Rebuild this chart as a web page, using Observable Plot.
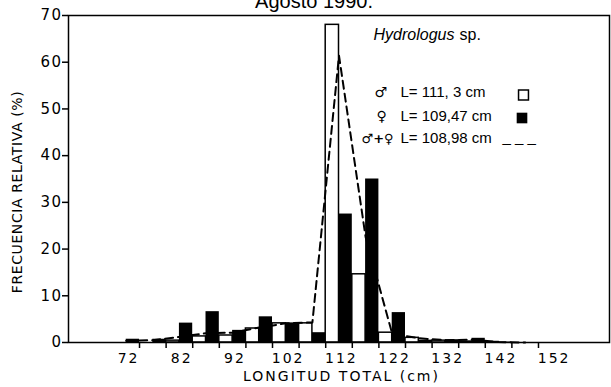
<!DOCTYPE html>
<html><head><meta charset="utf-8">
<script src="https://cdn.jsdelivr.net/npm/d3@7"></script>
<script src="https://cdn.jsdelivr.net/npm/@observablehq/plot@0.6"></script>
<style>
body{margin:0;background:#fff;}
g[aria-label="y-axis tick label"] text{letter-spacing:1.5px}
</style></head><body><div id="chart"></div>
<script>
// 5-cm length classes; male bar in first half, female bar in second half
const binStarts = [70,75,80,85,90,95,100,105,110,115,120,125,130,135,140,145];
const binWidth = 5;
const maleValues   = [0,0,0.4,1.3,1.5,3.0,4.1,4.1,68.0,14.6,2.1,1.0,0.4,0.2,0.1,0];
const femaleValues = [0.7,0.7,4.15,6.6,2.6,5.5,4.2,2.1,27.5,35.0,6.4,0.5,0.6,0.9,0.1,0];
const combinedValues = [0.4,0.5,1.2,2.0,2.1,3.2,4.1,4.3,61.4,22.6,1.9,0.9,0.5,0.6,0.1,0];
const yTicks = [0,10,20,30,40,50,60,70];
const xTicks = [75,80,85,90,95,100,105,110,115,120,125,130,135,140,145,150];
const xTickLabels = [72,82,92,102,112,122,132,142,152];
const titleText = "Agosto 1990.";
const xTitle = "LONGITUD TOTAL (cm)";
const yTitle = "FRECUENCIA RELATIVA (%)";
const speciesName = "Hydrologus";
const speciesSuffix = "sp.";
const legendSymbols = ["\u2642", "\u2640", "\u2642+\u2640"];
const legendLabels = ["L= 111, 3 cm", "L= 109,47 cm", "L= 108,98 cm"];

const maleRows = binStarts.map((s,i)=>({x1:s, x2:s+binWidth/2, y:maleValues[i]}));
const femaleRows = binStarts.map((s,i)=>({x1:s+binWidth/2, x2:s+binWidth, y:femaleValues[i]}));
const combRows = binStarts.map((s,i)=>({x:s+binWidth/2, y:combinedValues[i]}));

const F = "Liberation Sans, Arial, sans-serif";
const D = "DejaVu Sans, sans-serif";
const one = a => [a];

const chart = Plot.plot({
  width: 611, height: 387,
  marginLeft: 68, marginRight: 2, marginTop: 15, marginBottom: 45,
  x: {domain: [61.65, 163.35], axis: null},
  y: {domain: [0, 70], axis: null},
  style: {background: "white", color: "black", overflow: "visible"},
  marks: [
    Plot.rectY(maleRows, {x1:"x1", x2:"x2", y:"y", fill:"white", stroke:"black", strokeWidth:1.5}),
    Plot.rectY(femaleRows, {x1:"x1", x2:"x2", y:"y", fill:"black"}),
    Plot.line(combRows, {x:"x", y:"y", stroke:"black", strokeWidth:2, strokeDasharray:"8,5"}),
    Plot.frame({stroke:"black", strokeWidth:1.5}),
    Plot.axisY({ticks: yTicks, tickSize: 6, tickPadding: 0, strokeWidth: 1.5, fontSize: 15, fontFamily: D, label: null, tickFormat: d => String(d)}),
    Plot.axisX({ticks: xTicks, tickSize: 6, strokeWidth: 1.5, tickFormat: () => "", label: null}),
    Plot.text(xTickLabels, {x: d => d, text: d => String(d), frameAnchor: "bottom", textAnchor: "middle", lineAnchor: "top", dy: 11, dx: 5, fontSize: 14, fontFamily: D}),
    Plot.text(one(xTitle), {frameAnchor: "bottom", textAnchor: "middle", lineAnchor: "bottom", dy: 38, dx: 2.5, fontSize: 14, fontFamily: D}),
    Plot.text(one(yTitle), {frameAnchor: "left", textAnchor: "middle", lineAnchor: "middle", rotate: -90, dx: -51, dy: 13, fontSize: 14, fontFamily: D}),
    Plot.text(one(titleText), {frameAnchor: "top", textAnchor: "middle", lineAnchor: "bottom", dx: -25, dy: -8, fontSize: 20, fontFamily: F}),
    // legend
    Plot.text(one(speciesName), {frameAnchor: "top-left", textAnchor: "start", lineAnchor: "bottom", dx: 305, dy: 24, fontSize: 16, fontStyle: "italic", fontFamily: F}),
    Plot.text(one(speciesSuffix), {frameAnchor: "top-left", textAnchor: "start", lineAnchor: "bottom", dx: 391, dy: 24, fontSize: 16, fontFamily: F}),
    Plot.text(one(legendSymbols[0]), {frameAnchor: "top-left", textAnchor: "start", lineAnchor: "bottom", dx: 306, dy: 81, fontSize: 14, fontWeight: "bold", fontFamily: D}),
    Plot.text(one(legendLabels[0]), {frameAnchor: "top-left", textAnchor: "start", lineAnchor: "bottom", dx: 332, dy: 81, fontSize: 15, fontFamily: F}),
    Plot.text(one(legendSymbols[1]), {frameAnchor: "top-left", textAnchor: "start", lineAnchor: "bottom", dx: 308, dy: 105, fontSize: 14, fontWeight: "bold", fontFamily: D}),
    Plot.text(one(legendLabels[1]), {frameAnchor: "top-left", textAnchor: "start", lineAnchor: "bottom", dx: 332, dy: 105, fontSize: 15, fontFamily: F}),
    Plot.text(one(legendSymbols[2]), {frameAnchor: "top-left", textAnchor: "start", lineAnchor: "bottom", dx: 293, dy: 127, fontSize: 13, fontWeight: "bold", fontFamily: D}),
    Plot.text(one(legendLabels[2]), {frameAnchor: "top-left", textAnchor: "start", lineAnchor: "bottom", dx: 332, dy: 127, fontSize: 15, fontFamily: F}),
    Plot.text(one("_ _ _"), {frameAnchor: "top-left", textAnchor: "start", lineAnchor: "bottom", dx: 434, dy: 126, fontSize: 15, fontFamily: F}),
    Plot.dot(one(0), {frameAnchor: "top-left", dx: 455, dy: 79.5, symbol: "square", r: 5.6, fill: "white", stroke: "black", strokeWidth: 1.5}),
    Plot.dot(one(0), {frameAnchor: "top-left", dx: 453.5, dy: 102.5, symbol: "square", r: 6, fill: "black"})
  ]
});
// letter spacing for the wide lettering of the original
const tickStrings = new Set(xTickLabels.map(String));
d3.select(chart).selectAll("text").each(function() {
  const t = this.textContent;
  if (tickStrings.has(t) && this.closest('g[aria-label="text"]')) this.style.letterSpacing = "2px";
  if (t === xTitle) this.style.letterSpacing = "2px";
  if (t === yTitle) this.style.letterSpacing = "0.6px";
});
document.getElementById("chart").appendChild(chart);
</script></body></html>
